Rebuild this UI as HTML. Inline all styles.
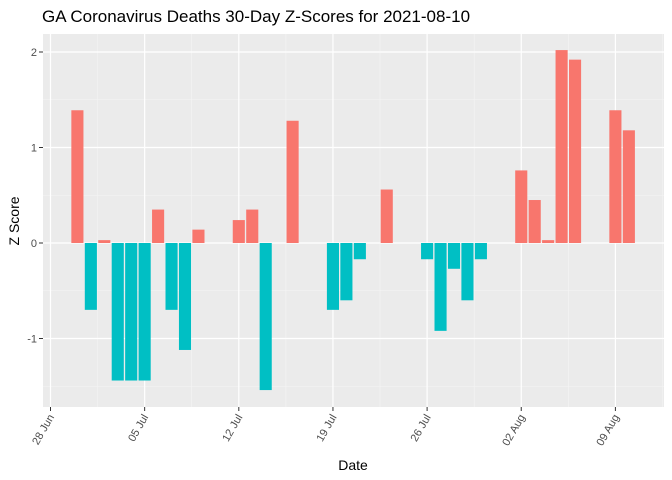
<!DOCTYPE html>
<html><head><meta charset="utf-8"><style>
body{margin:0;background:#fff;}
svg{display:block;font-family:"Liberation Sans",sans-serif;}
</style></head><body>
<svg id="chart" width="672" height="480">
<text x="42" y="22" font-size="17" fill="#000">GA Coronavirus Deaths 30-Day Z-Scores for 2021-08-10</text>
<rect x="43" y="34" width="621" height="373" fill="#ebebeb"/>
<g id="grid"></g><g id="bars"></g><g id="axes"></g>
<text x="353" y="470" font-size="14" text-anchor="middle">Date</text>
<text transform="translate(19,221) rotate(-90)" font-size="14" text-anchor="middle">Z Score</text>
</svg>
<script>
const dayOffsets=[2,3,4,5,6,7,8,9,10,11,14,15,16,18,21,22,23,25,28,29,30,31,32,35,36,37,38,39,42,43];
const zScores=[1.39,-0.70,0.03,-1.44,-1.44,-1.44,0.35,-0.70,-1.12,0.14,0.24,0.35,-1.54,1.28,-0.70,-0.60,-0.17,0.56,-0.17,-0.92,-0.27,-0.60,-0.17,0.76,0.45,0.03,2.02,1.92,1.39,1.18];
const xTickDays=[0,7,14,21,28,35,42];
const xTickLabels=["28 Jun","05 Jul","12 Jul","19 Jul","26 Jul","02 Aug","09 Aug"];
const yTicks=[-1,0,1,2];
const NS="http://www.w3.org/2000/svg";
const x=d=>50.5+d*13.45;
const y=v=>243-v*95.5;
const L=43,R=664,T=34,B=407;
function mk(tag,attrs,parent){const e=document.createElementNS(NS,tag);for(const k in attrs)e.setAttribute(k,attrs[k]);document.getElementById(parent).appendChild(e);return e;}
// minor grid
[-1.5,-0.5,0.5,1.5].forEach(v=>{const e=mk('line',{x1:L,x2:R,y1:y(v),y2:y(v),stroke:'#f5f5f5','stroke-width':0.6},'grid');

});
xTickDays.forEach(d=>{const e=mk('line',{x1:x(d+3.5),x2:x(d+3.5),y1:T,y2:B,stroke:'#f5f5f5','stroke-width':0.6},'grid');

});
yTicks.forEach(v=>{const e=mk('line',{x1:L,x2:R,y1:y(v),y2:y(v),stroke:'#fff','stroke-width':1.2},'grid');


const t=mk('text',{x:37,y:y(v)+4,'font-size':11,fill:'#4d4d4d','text-anchor':'end'},'axes');t.textContent=String(v);


const tk=mk('line',{x1:39,x2:43,y1:y(v),y2:y(v),stroke:'#333'},'axes');

});
xTickDays.forEach((d,i)=>{const e=mk('line',{x1:x(d),x2:x(d),y1:T,y2:B,stroke:'#fff','stroke-width':1.2},'grid');


const tk=mk('line',{x1:x(d),x2:x(d),y1:B,y2:B+4,stroke:'#333'},'axes');


const t=mk('text',{transform:`translate(${x(d)+4},${B+10}) rotate(-60)`,'font-size':11,fill:'#4d4d4d','text-anchor':'end'},'axes');t.textContent=xTickLabels[i];

});
dayOffsets.forEach((d,i)=>{const v=zScores[i];const y0=y(0),y1=y(v);
const b=mk('rect',{x:x(d)-6.05,width:12.1,y:Math.min(y0,y1),height:Math.abs(y1-y0),fill:v>=0?'#f8766d':'#00bfc4'},'bars');

});
</script>
</body></html>
